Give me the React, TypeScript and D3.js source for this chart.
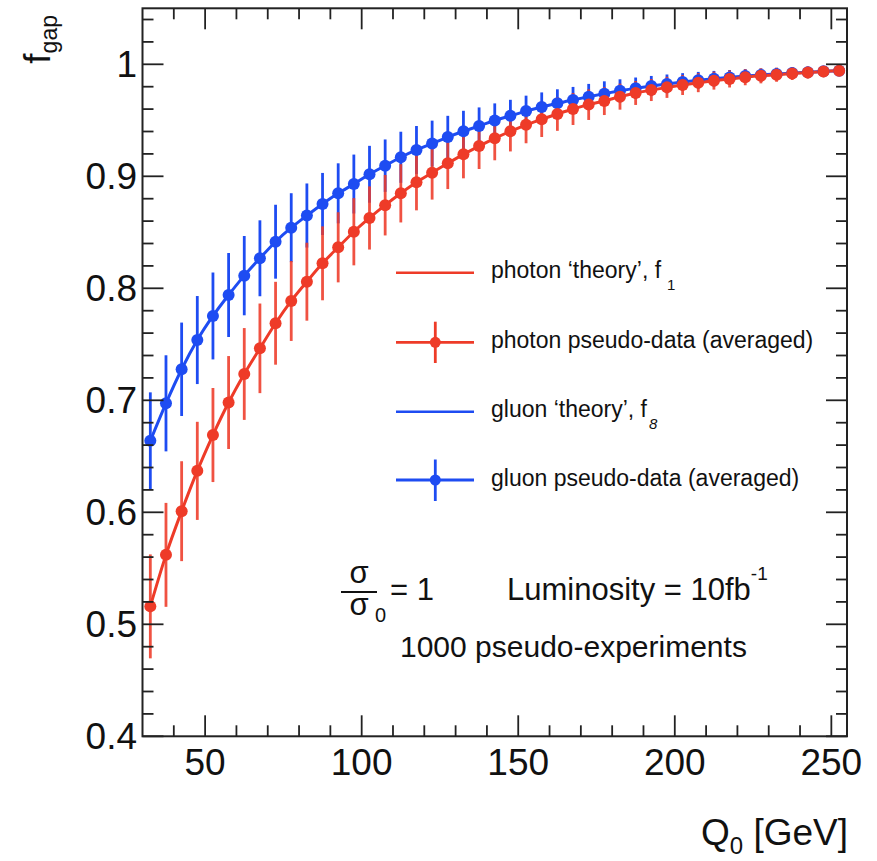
import React from "react";
import * as d3 from "d3";

// ---------- data ----------
const q0Values = [
  32.5, 37.5, 42.5, 47.5, 52.5, 57.5, 62.5, 67.5, 72.5, 77.5, 82.5, 87.5, 92.5, 97.5, 102.5,
  107.5, 112.5, 117.5, 122.5, 127.5, 132.5, 137.5, 142.5, 147.5, 152.5, 157.5, 162.5, 167.5,
  172.5, 177.5, 182.5, 187.5, 192.5, 197.5, 202.5, 207.5, 212.5, 217.5, 222.5, 227.5, 232.5,
  237.5, 242.5, 247.5, 252.5,
];

const photonValues = [
  0.516, 0.562, 0.601, 0.637, 0.669, 0.698, 0.7235, 0.7464, 0.7688, 0.7887, 0.8059, 0.8223,
  0.8366, 0.8505, 0.8628, 0.8742, 0.8848, 0.8946, 0.9032, 0.9116, 0.9196, 0.927, 0.9339,
  0.9402, 0.946, 0.9509, 0.9556, 0.9601, 0.964, 0.9672, 0.9711, 0.9744, 0.977, 0.9794, 0.9815,
  0.9836, 0.9854, 0.9869, 0.9884, 0.9897, 0.9907, 0.9918, 0.9927, 0.9935, 0.9943,
];

const photonErrors = [
  0.0464, 0.0464, 0.0446, 0.0438, 0.042, 0.0415, 0.041, 0.04, 0.037, 0.0357, 0.0348, 0.033,
  0.0313, 0.03, 0.0282, 0.027, 0.026, 0.025, 0.024, 0.023, 0.0214, 0.0205, 0.0196, 0.018,
  0.0165, 0.0158, 0.015, 0.0143, 0.0137, 0.0125, 0.0116, 0.0107, 0.0098, 0.0094, 0.0089,
  0.0085, 0.008, 0.0076, 0.0071, 0.0067, 0.0063, 0.0058, 0.0054, 0.005, 0.0045,
];

const gluonValues = [
  0.6638, 0.6973, 0.7277, 0.7538, 0.7753, 0.794, 0.8113, 0.8268, 0.8416, 0.8541, 0.865, 0.8753,
  0.8848, 0.8931, 0.9018, 0.9095, 0.917, 0.9235, 0.9292, 0.935, 0.9402, 0.9449, 0.9498, 0.9541,
  0.9582, 0.9619, 0.9652, 0.9682, 0.9711, 0.9738, 0.9763, 0.9786, 0.9806, 0.9825, 0.9842,
  0.9857, 0.9871, 0.9883, 0.9895, 0.9905, 0.9914, 0.9922, 0.993, 0.9937, 0.9943,
];

const gluonErrors = [
  0.0433, 0.0429, 0.0417, 0.0393, 0.0388, 0.0375, 0.0354, 0.0339, 0.033, 0.0308, 0.0286,
  0.0277, 0.0268, 0.0263, 0.0254, 0.0234, 0.0228, 0.0214, 0.0205, 0.019, 0.0183, 0.0166,
  0.0153, 0.0142, 0.0138, 0.013, 0.0125, 0.0116, 0.0114, 0.011, 0.0103, 0.0096, 0.009, 0.0084,
  0.0079, 0.0075, 0.007, 0.0066, 0.0062, 0.0058, 0.0054, 0.005, 0.0046, 0.0043, 0.004,
];

const xMajorTicks = [50, 100, 150, 200, 250];
const xTickLabels = ["50", "100", "150", "200", "250"];
const xMinorTicks = [40, 60, 70, 80, 90, 110, 120, 130, 140, 160, 170, 180, 190, 210, 220, 230, 240];
const yMajorTicks = [0.4, 0.5, 0.6, 0.7, 0.8, 0.9, 1.0];
const yTickLabels = ["0.4", "0.5", "0.6", "0.7", "0.8", "0.9", "1"];
const yMinorTicks = [
  0.42, 0.44, 0.46, 0.48, 0.52, 0.54, 0.56, 0.58, 0.62, 0.64, 0.66, 0.68, 0.72, 0.74, 0.76, 0.78,
  0.82, 0.84, 0.86, 0.88, 0.92, 0.94, 0.96, 0.98, 1.02, 1.04,
];

const RED = "#ee3b28";
const BLUE = "#1e4cf2";
const FONT = "'Liberation Sans', Arial, Helvetica, sans-serif";

export default function App() {
  const W = 877;
  const H = 861;
  const x = d3.scaleLinear().domain([30, 255]).range([142.5, 847]);
  const y = d3.scaleLinear().domain([0.4, 1.05]).range([736.3, 8.3]);
  const [x0, x1] = x.range();
  const [y0, y1] = y.range();

  const line = d3
    .line<number>()
    .x((_, i) => x(q0Values[i]))
    .y((d) => y(d))
    .curve(d3.curveMonotoneX);

  const series = [
    { vals: gluonValues, errs: gluonErrors, color: BLUE },
    { vals: photonValues, errs: photonErrors, color: RED },
  ];

  const majLen = 21;
  const minLen = 11;
  const axisColor = "#222";

  return (
    <svg
      width={W}
      height={H}
      style={{ position: "absolute", left: 0, top: 0, background: "#fff" }}
      fontFamily={FONT}
    >
      <rect x={0} y={0} width={W} height={H} fill="#fff" />

      {/* error bars */}
      {series.map((s, si) => (
        <g key={"e" + si} stroke={s.color} strokeWidth={2.8} opacity={si === 1 ? 0.88 : 1}>
          {s.vals.map((v, i) => (
            <line
              key={i}
              x1={x(q0Values[i])}
              x2={x(q0Values[i])}
              y1={y(v - s.errs[i])}
              y2={y(v + s.errs[i])}
            />
          ))}
        </g>
      ))}

      {/* theory curves */}
      {series.map((s, si) => (
        <path key={"l" + si} d={line(s.vals) || ""} fill="none" stroke={s.color} strokeWidth={3} />
      ))}

      {/* markers */}
      {series.map((s, si) => (
        <g key={"m" + si} fill={s.color}>
          {s.vals.map((v, i) => (
            <circle key={i} cx={x(q0Values[i])} cy={y(v)} r={6} />
          ))}
        </g>
      ))}

      {/* frame */}
      <rect
        x={x0}
        y={y1}
        width={x1 - x0}
        height={y0 - y1}
        fill="none"
        stroke={axisColor}
        strokeWidth={2}
      />

      {/* ticks */}
      <g stroke={axisColor} strokeWidth={1.8}>
        {xMajorTicks.map((t) => (
          <g key={"xM" + t}>
            <line x1={x(t)} x2={x(t)} y1={y0} y2={y0 - majLen} />
            <line x1={x(t)} x2={x(t)} y1={y1} y2={y1 + majLen} />
          </g>
        ))}
        {xMinorTicks.map((t) => (
          <g key={"xm" + t}>
            <line x1={x(t)} x2={x(t)} y1={y0} y2={y0 - minLen} />
            <line x1={x(t)} x2={x(t)} y1={y1} y2={y1 + minLen} />
          </g>
        ))}
        {yMajorTicks.map((t) => (
          <g key={"yM" + t}>
            <line x1={x0} x2={x0 + majLen} y1={y(t)} y2={y(t)} />
            <line x1={x1} x2={x1 - majLen} y1={y(t)} y2={y(t)} />
          </g>
        ))}
        {yMinorTicks.map((t) => (
          <g key={"ym" + t}>
            <line x1={x0} x2={x0 + minLen} y1={y(t)} y2={y(t)} />
            <line x1={x1} x2={x1 - minLen} y1={y(t)} y2={y(t)} />
          </g>
        ))}
      </g>

      {/* tick labels */}
      <g fontSize={37} fill="#111">
        {xMajorTicks.map((t, i) => (
          <text key={"xl" + t} x={x(t)} y={775} textAnchor="middle">
            {xTickLabels[i]}
          </text>
        ))}
        {yMajorTicks.map((t, i) => (
          <text key={"yl" + t} x={137} y={y(t) + 13} textAnchor="end">
            {yTickLabels[i]}
          </text>
        ))}
      </g>

      {/* axis titles */}
      <text x={848} y={845} textAnchor="end" fontSize={37} fill="#111">
        Q<tspan fontSize={24} dy={9}>0</tspan>
        <tspan dy={-9}> [GeV]</tspan>
      </text>
      <text transform="translate(50,15) rotate(-90)" textAnchor="end" fontSize={37} fill="#111">
        f<tspan fontSize={23} dy={7}>gap</tspan>
      </text>

      {/* legend */}
      <g fontSize={23} fill="#111">
        <line x1={396} x2={474} y1={272.7} y2={272.7} stroke={RED} strokeWidth={2.5} />
        <text x={491} y={278}>
          photon ‘theory’, f<tspan fontSize={15} dx={6} dy={12}>1</tspan>
        </text>

        <line x1={396} x2={474} y1={342.3} y2={342.3} stroke={RED} strokeWidth={2.8} />
        <line x1={435.3} x2={435.3} y1={321.7} y2={363} stroke={RED} strokeWidth={2.8} />
        <circle cx={435.3} cy={342.3} r={5.5} fill={RED} />
        <text x={491} y={348}>photon pseudo-data (averaged)</text>

        <line x1={396} x2={474} y1={411.7} y2={411.7} stroke={BLUE} strokeWidth={2.5} />
        <text x={491} y={417}>
          gluon ‘theory’, f<tspan fontSize={15} dx={2} dy={12} fontStyle="italic">8</tspan>
        </text>

        <line x1={396} x2={474} y1={480} y2={480} stroke={BLUE} strokeWidth={2.8} />
        <line x1={435.3} x2={435.3} y1={459.5} y2={501} stroke={BLUE} strokeWidth={2.8} />
        <circle cx={435.3} cy={480} r={5.5} fill={BLUE} />
        <text x={491} y={486}>gluon pseudo-data (averaged)</text>
      </g>

      {/* annotations */}
      <g fill="#111">
        <text x={359} y={583} fontSize={31} textAnchor="middle">σ</text>
        <line x1={341} x2={377} y1={592} y2={592} stroke="#111" strokeWidth={2} />
        <text x={359} y={615} fontSize={31} textAnchor="middle">σ</text>
        <text x={375} y={622} fontSize={20}>0</text>
        <text x={390} y={600} fontSize={31}>= 1</text>
        <text x={507} y={600} fontSize={31}>
          Luminosity = 10fb<tspan fontSize={19} dy={-20}>-1</tspan>
        </text>
        <text x={400} y={657} fontSize={30}>1000 pseudo-experiments</text>
      </g>
    </svg>
  );
}
